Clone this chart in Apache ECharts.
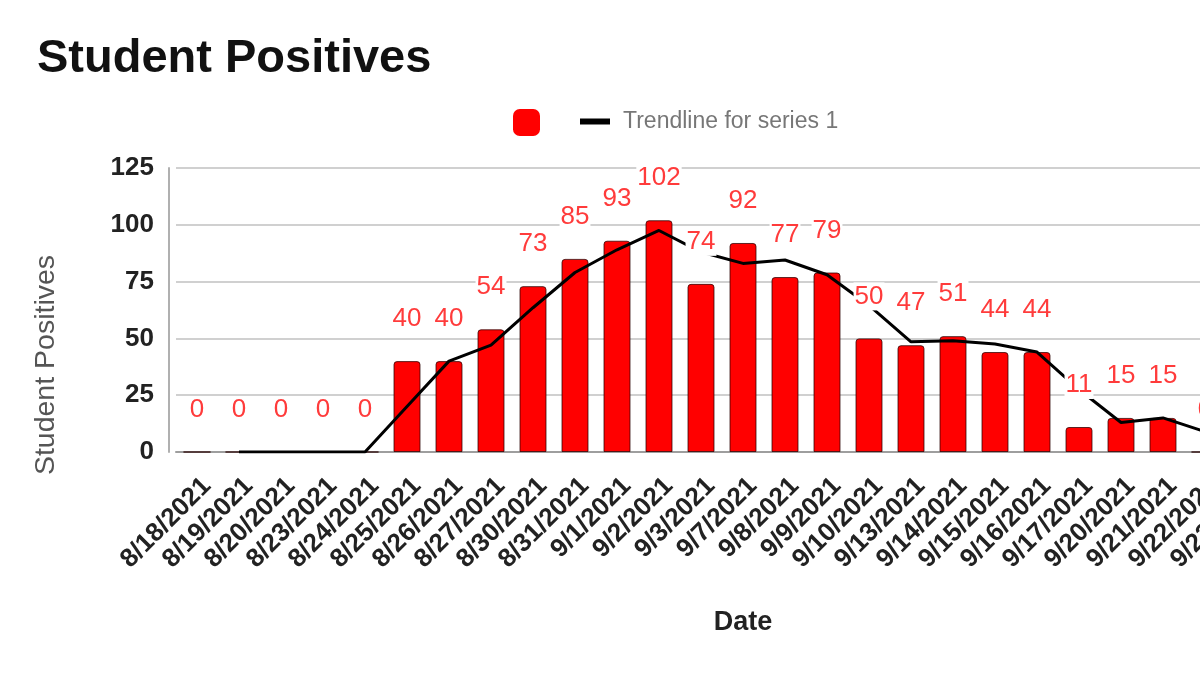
<!DOCTYPE html>
<html>
<head>
<meta charset="utf-8">
<script src="https://cdn.jsdelivr.net/npm/echarts@6/dist/echarts.min.js"></script>
<style>
html,body{margin:0;padding:0;background:#fff;overflow:hidden;width:1200px;height:674px;}
#chart{width:1300px;height:674px;}
</style>
</head>
<body>
<div id="chart"></div>
<script>
const categories = ['8/18/2021','8/19/2021','8/20/2021','8/23/2021','8/24/2021','8/25/2021','8/26/2021','8/27/2021','8/30/2021','8/31/2021','9/1/2021','9/2/2021','9/3/2021','9/7/2021','9/8/2021','9/9/2021','9/10/2021','9/13/2021','9/14/2021','9/15/2021','9/16/2021','9/17/2021','9/20/2021','9/21/2021','9/22/2021','9/23/2021'];
const positives = [0,0,0,0,0,40,40,54,73,85,93,102,74,92,77,79,50,47,51,44,44,11,15,15,0,0];
const trendline = [null,0,0,0,0,20,40,47,63.5,79,89,97.5,88,83,84.5,78,64.5,48.5,49,47.5,44,27.5,13,15,9,0];
const yMin = 0, yMax = 125, yStep = 25;

const FONT = 'Liberation Sans, Arial, sans-serif';
const chart = echarts.init(document.getElementById('chart'), null, {renderer:'canvas'});
chart.setOption({
  animation: false,
  backgroundColor: '#fff',
  title: {
    text: 'Student Positives', left: 32, top: 31,
    textStyle: {fontFamily: FONT, fontSize: 47, fontWeight: 'bold', color: '#111'}
  },
  legend: [
    {data: [' '], left: 508, top: 104, itemWidth: 27, itemHeight: 27, icon: 'roundRect',
     itemStyle: {borderWidth: 0, color: '#ff0000'},
     textStyle: {fontSize: 10}, selectedMode: false},
    {data: ['Trendline for series 1'], left: 575, top: 105, itemWidth: 30, itemHeight: 6, icon: 'rect',
     selectedMode: false,
     textStyle: {fontFamily: FONT, fontSize: 23, color: '#777', padding: [0,0,0,8]}}
  ],
  grid: [
    {left: 176, right: 32, top: 168, bottom: 222, outerBoundsMode: 'none'},
    {left: 186, right: 22, top: 168, bottom: 222, outerBoundsMode: 'none'}
  ],
  xAxis: [
    {type: 'category', data: categories, gridIndex: 0,
     axisLabel: {show: false}, axisTick: {show: false},
     axisLine: {show: true, lineStyle: {color: '#9e9e9e', width: 2}}},
    {type: 'category', data: categories, gridIndex: 1,
     axisLine: {show: false}, axisTick: {show: false}, splitLine: {show: false},
     axisLabel: {rotate: 45, interval: 0, margin: 30, fontFamily: FONT, fontSize: 26,
                 fontWeight: 'bold', color: '#222'}}
  ],
  yAxis: [
    {type: 'value', gridIndex: 0, min: yMin, max: yMax, interval: yStep, offset: 7,
     axisLine: {show: true, lineStyle: {color: '#b0b0b0', width: 2}},
     axisTick: {show: false},
     splitLine: {lineStyle: {color: '#d0d0d0', width: 2}},
     axisLabel: {margin: 15, fontFamily: FONT, fontSize: 26, fontWeight: 'bold', color: '#222'}},
    {type: 'value', gridIndex: 1, min: yMin, max: yMax, show: false}
  ],
  graphic: [
    {type: 'text', x: 46, y: 365, rotation: Math.PI / 2,
     style: {text: 'Student Positives', fontFamily: FONT, fontSize: 28.5, fill: '#555',
             align: 'center', verticalAlign: 'middle', textAlign: 'center', textVerticalAlign: 'middle'}},
    {type: 'text', x: 743, y: 623,
     style: {text: 'Date', fontFamily: FONT, fontSize: 27, fontWeight: 'bold', fill: '#222',
             align: 'center', verticalAlign: 'middle', textAlign: 'center', textVerticalAlign: 'middle'}}
  ],
  series: [
    {name: ' ', type: 'bar', data: positives, barWidth: 27, barGap: '-100%', z: 2,
     itemStyle: {color: '#ff0000', borderColor: 'rgba(40,0,0,0.75)', borderWidth: 1, borderRadius: [3,3,0,0]}},
    {name: 'Trendline for series 1', type: 'line', data: trendline, z: 3,
     symbol: 'none', smooth: false, color: '#000',
     lineStyle: {color: '#000', width: 3}},
    {name: 'labels', type: 'bar', data: positives, barWidth: 27, barGap: '-100%', z: 5,
     itemStyle: {color: 'rgba(0,0,0,0)'}, silent: true,
     label: {show: true, position: 'top', distance: 28, fontFamily: FONT, fontSize: 26,
             color: '#ff3b3b', backgroundColor: '#fff', padding: [1, 1, 1, 1]}}
  ]
});
</script>
</body>
</html>
